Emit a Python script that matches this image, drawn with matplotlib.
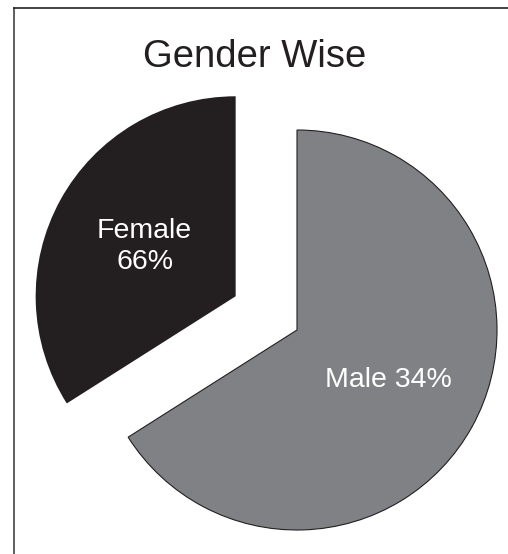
import matplotlib
matplotlib.use('Agg')
from matplotlib import pyplot as plt
from matplotlib.lines import Line2D

# slice sizes as drawn, and the label text as printed on the chart
genders = ['Female', 'Male']
shares = [34, 66]
slice_labels = ['Female\n66%', 'Male 34%']
slice_colors = ['#231f20', '#808184']
explode = [0.35, 0]

plt.rcParams['font.family'] = ['Liberation Sans', 'DejaVu Sans']

fig = plt.figure(figsize=(5.08, 5.54), dpi=100)
ax = fig.add_axes([0, 0, 1, 1])

wedges, texts = ax.pie(shares, labels=slice_labels, colors=slice_colors,
                       explode=explode, startangle=90, counterclock=True,
                       labeldistance=0.52,
                       wedgeprops={'linewidth': 0.8, 'edgecolor': '#231f20'},
                       textprops={'color': 'white', 'fontsize': 20.5})
wedges[0].set_linewidth(0)
for t in texts:
    t.set_horizontalalignment('center')
    t.set_verticalalignment('center')
    t.set_linespacing(1.25)

ax.set_aspect('auto')
ax.set_xlim(-1.485, 1.055)
ax.set_ylim(-1.12, 1.65)
ax.axis('off')

# title
fig.text(0.501, 1 - 67 / 554, 'Gender Wise', ha='center', va='baseline',
         fontsize=27.5, color='#231f20')

# frame lines (left and top edges of the panel)
fig.add_artist(Line2D([14 / 508, 14 / 508], [0, 1 - 8 / 554],
                      transform=fig.transFigure, color='#444444', lw=1.2))
fig.add_artist(Line2D([14 / 508, 1], [1 - 8 / 554, 1 - 8 / 554],
                      transform=fig.transFigure, color='#222222', lw=1.2))

fig.savefig('out.png', dpi=100)
